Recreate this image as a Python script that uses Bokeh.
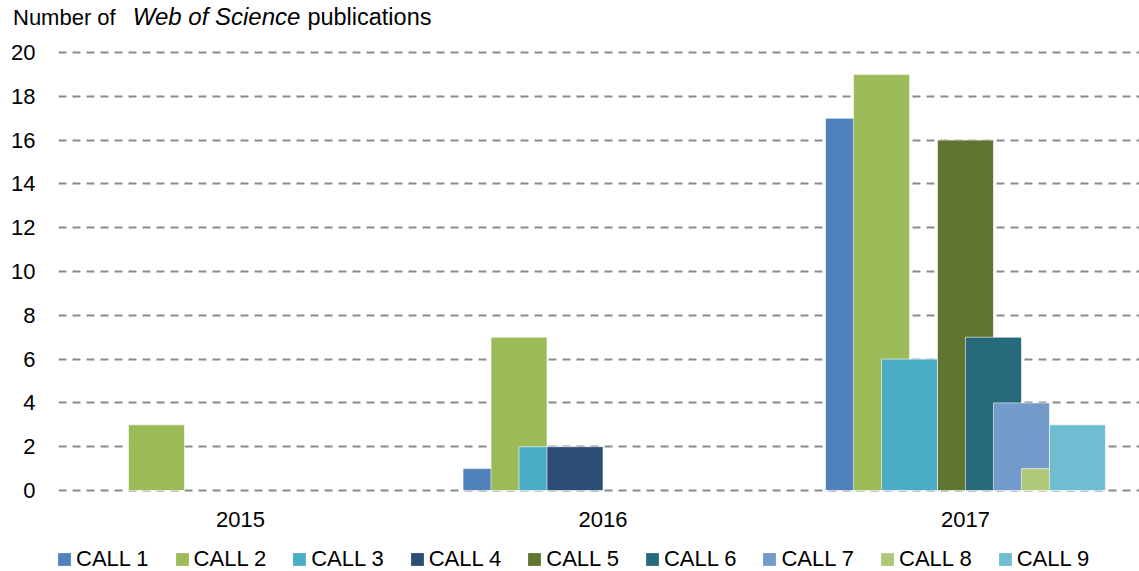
from bokeh.plotting import figure
from bokeh.models import Range1d, FixedTicker, Legend, LegendItem, Div
from bokeh.layouts import column
from bokeh.embed import file_html
from bokeh.resources import INLINE

# ---- data ----
years = ["2015", "2016", "2017"]
series_names = ["CALL 1", "CALL 2", "CALL 3", "CALL 4", "CALL 5",
                "CALL 6", "CALL 7", "CALL 8", "CALL 9"]
call1 = [0, 1, 17]
call2 = [3, 7, 19]
call3 = [0, 2, 6]
call4 = [0, 2, 0]
call5 = [0, 0, 16]
call6 = [0, 0, 7]
call7 = [0, 0, 4]
call8 = [0, 0, 1]
call9 = [0, 0, 3]
series_values = [call1, call2, call3, call4, call5, call6, call7, call8, call9]
colors = ["#4F81BD", "#9BBB59", "#4BACC6", "#2C4D75", "#5F7530",
          "#276A7C", "#729ACA", "#AFC97A", "#6FBDD1"]
y_ticks = list(range(0, 21, 2))
title_parts = ("Number of", "Web of Science", "publications")

FONT = "Liberation Sans"
FS = "22px"
W = 1139
TITLE_H = 36
MAIN_H = 500
LEG_H = 571 - TITLE_H - MAIN_H

title_html = (f'<span>{title_parts[0]}</span>'
              f'<i style="margin-left:17px;font-size:24px">{title_parts[1]}</i>'
              f'<span style="margin-left:7px;font-size:23.5px">{title_parts[2]}</span>')
title = Div(text=title_html, width=W, height=TITLE_H,
            styles={"font-family": FONT, "font-size": FS, "color": "black",
                    "margin": "0", "padding": "3px 0 0 13px",
                    "line-height": "normal", "white-space": "nowrap"})

X_RANGE = (-0.502, 2.480)
p = figure(width=W, height=MAIN_H, output_backend="svg",
           toolbar_location=None,
           x_range=Range1d(*X_RANGE), y_range=Range1d(-0.228, 20.457),
           min_border_left=58, min_border_right=0, min_border_top=6,
           min_border_bottom=41)
p.outline_line_color = None
p.background_fill_color = "white"
p.border_fill_color = "white"

step = 0.0772
bar_w = 0.1545
bar_data = []
for i, vals in enumerate(series_values):
    xs = [j + (i - 4) * step for j, v in enumerate(vals) if v > 0]
    tops = [v for v in vals if v > 0]
    bar_data.append((xs, tops))

for (xs, tops), col in zip(bar_data, colors):
    p.vbar(x=xs, top=tops, bottom=0, width=bar_w, fill_color=col,
           line_color="white", line_width=1, line_alpha=0.6)

# axes
p.xaxis.ticker = FixedTicker(ticks=list(range(len(years))))
p.xaxis.major_label_overrides = {i: y for i, y in enumerate(years)}
p.yaxis.ticker = FixedTicker(ticks=y_ticks)
for ax in (p.xaxis, p.yaxis):
    ax.axis_line_color = None
    ax.major_tick_line_color = None
    ax.minor_tick_line_color = None
    ax.major_tick_in = 0
    ax.major_tick_out = 0
    ax.major_label_text_font = FONT
    ax.major_label_text_font_size = FS
    ax.major_label_text_color = "black"
p.xaxis.major_label_standoff = 16
p.yaxis.major_label_standoff = 23

p.xgrid.grid_line_color = None
p.ygrid.ticker = FixedTicker(ticks=y_ticks)
p.ygrid.grid_line_color = "#8a8a8a"
p.ygrid.grid_line_width = 1.8
p.ygrid.grid_line_dash = "8 6"

# legend strip (own figure so it can sit below the x axis); the same bars are
# drawn there outside the visible range so that the legend has its glyphs
pl = figure(width=W, height=LEG_H, output_backend="svg", toolbar_location=None,
            x_range=Range1d(X_RANGE[0] - 10, X_RANGE[0] - 9),
            y_range=Range1d(0, 1),
            x_axis_location=None, y_axis_location=None, min_border=0)
pl.outline_line_color = None
pl.xgrid.visible = False
pl.ygrid.visible = False
items = []
for name, (xs, tops), col in zip(series_names, bar_data, colors):
    r = pl.vbar(x=xs, top=tops, bottom=0, width=bar_w, fill_color=col,
                line_color=None)
    items.append(LegendItem(label=name, renderers=[r]))
legend = Legend(items=items, orientation="horizontal", location=(-2, -1),
                glyph_width=16, glyph_height=16, label_standoff=4, spacing=25,
                padding=0, margin=0, border_line_color=None,
                background_fill_alpha=0, label_text_font=FONT,
                label_text_font_size=FS, label_height=22,
                label_text_color="black")
pl.add_layout(legend)

open("out.html", "w").write(file_html(column(title, p, pl, spacing=0), INLINE))
